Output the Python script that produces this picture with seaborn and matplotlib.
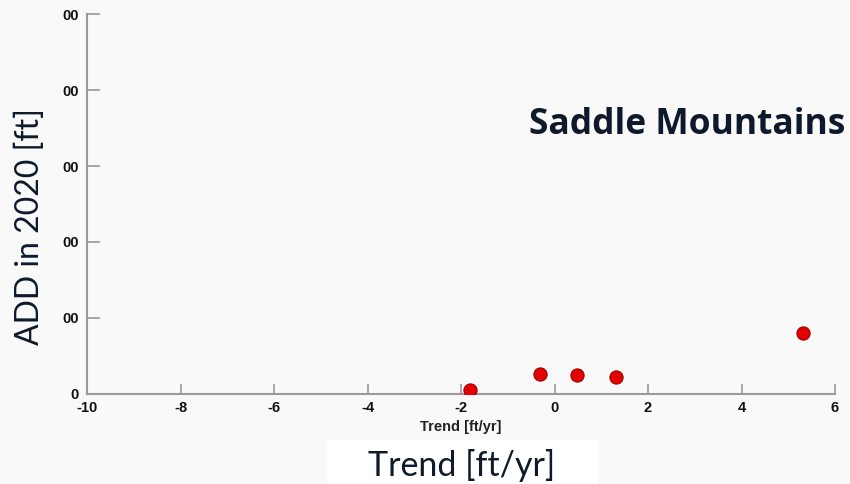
import matplotlib
matplotlib.use("Agg")
import matplotlib.pyplot as plt
from matplotlib.patches import Rectangle
import seaborn as sns
import pandas as pd

# ---- data ----
trend = [-1.81, -0.31, 0.48, 1.32, 5.32]
add_2020 = [5, 26, 25, 22, 80]
x_ticks = [-10, -8, -6, -4, -2, 0, 2, 4, 6]
y_ticks = [0, 100, 200, 300, 400, 500]
y_tick_labels = ["0", "00", "00", "00", "00", "00"]
title = "Saddle Mountains"
inner_xlabel = "Trend [ft/yr]"
outer_xlabel = "Trend [ft/yr]"
outer_ylabel = "ADD in 2020 [ft]"

df = pd.DataFrame({"trend": trend, "add": add_2020})

sns.set_theme(style="white")
plt.rcParams["font.family"] = ["Liberation Sans", "DejaVu Sans"]

bg = "#f9f9f9"
navy = "#0e1a2b"
fig = plt.figure(figsize=(8.5, 4.84), dpi=100, facecolor=bg)
ax = fig.add_axes([0.1024, 0.186, 0.88, 0.785])
ax.set_facecolor(bg)

sns.scatterplot(data=df, x="trend", y="add", ax=ax, s=90, color="#e30000",
                edgecolor="#a00000", linewidth=0.8, zorder=3, legend=False)

ax.set_xlim(-10, 6)
ax.set_ylim(0, 500)
ax.set_xticks(x_ticks)
ax.set_xticklabels([str(t) for t in x_ticks], fontweight="bold", fontsize=10.5)
ax.set_yticks(y_ticks)
ax.set_yticklabels(y_tick_labels, fontweight="bold", fontsize=10.5)
for s in ["top", "right"]:
    ax.spines[s].set_visible(False)
for s in ["left", "bottom"]:
    ax.spines[s].set_color("#9a9a9a")
    ax.spines[s].set_linewidth(1.5)
ax.tick_params(axis="x", direction="in", length=7, width=1.2, color="#9a9a9a",
               pad=5, labelcolor="#111111", bottom=True)
ax.tick_params(axis="y", direction="in", length=9, width=1.2, color="#9a9a9a",
               pad=6, labelcolor="#111111", left=True)
ax.set_xlabel(inner_xlabel, fontweight="bold", fontsize=10.5, color="#222222", labelpad=4)
ax.set_ylabel("")

fig.patches.append(Rectangle((0.385, 0.0), 0.318, 0.091, transform=fig.transFigure,
                             facecolor="white", edgecolor="none", zorder=1))
fig.text(0.5435, 0.039, outer_xlabel, ha="center", va="center", fontsize=24.5,
         family=["Lato", "DejaVu Sans"], color=navy, zorder=2)
fig.text(0.035, 0.531, outer_ylabel, ha="center", va="center", rotation=90,
         fontsize=23, family=["Lato", "DejaVu Sans"], color=navy)
fig.text(0.809, 0.742, title, ha="center", va="center", fontsize=25.5,
         fontweight="bold", family=["Open Sans", "DejaVu Sans"], color=navy)

fig.savefig("out.png", dpi=100, facecolor=bg)
